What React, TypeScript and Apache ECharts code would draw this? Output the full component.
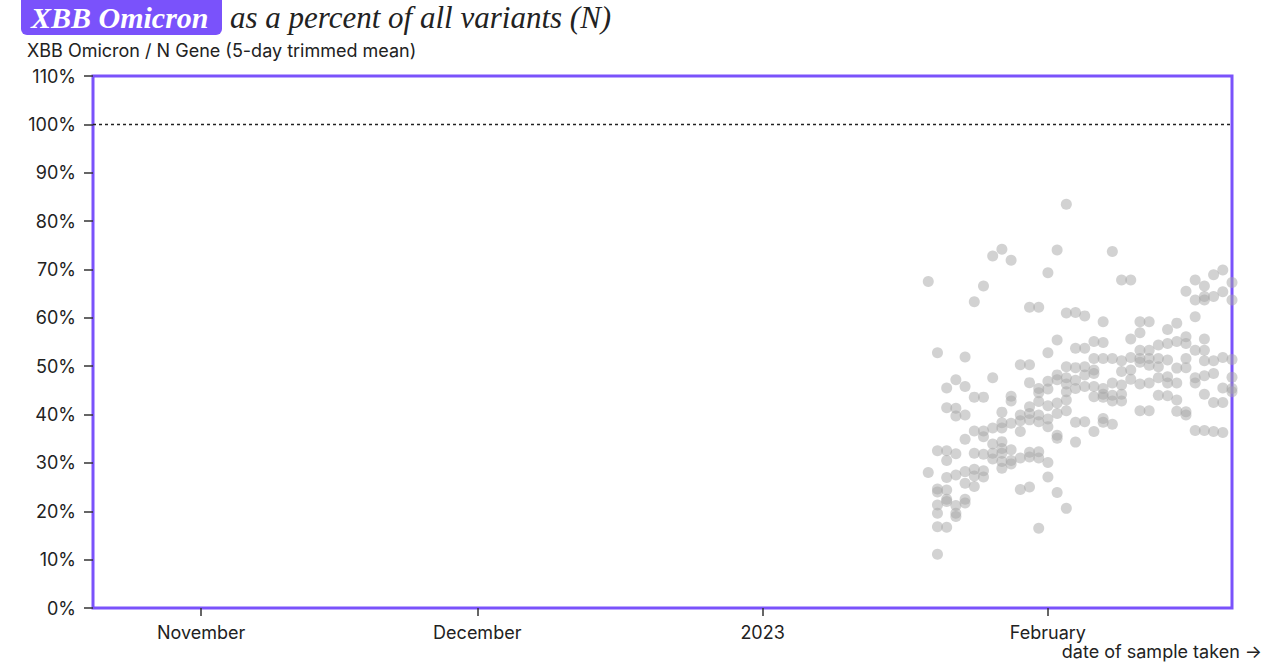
import React, { useEffect, useRef } from "react";
import * as echarts from "echarts";

const DAY = 86400000;
const START = Date.UTC(2023, 0, 19);

// XBB share (%) per sample day, Jan 19 .. Feb 21 (one list per day)
const dayValues: number[][] = [
  [67.5, 28],
  [52.8, 32.5, 24.6, 24.0, 21.3, 19.6, 16.8, 11.1],
  [45.5, 41.4, 32.5, 30.5, 27, 24.4, 22.5, 22, 16.7],
  [47.2, 41.3, 39.7, 31.9, 27.5, 21.2, 19.6, 18.9],
  [51.9, 45.8, 39.9, 34.9, 28.2, 25.8, 22.5, 21.7],
  [63.3, 43.6, 36.6, 32, 28.7, 27.3, 25.1],
  [66.6, 43.6, 36.6, 35.4, 31.8, 28.4, 27.1],
  [72.8, 47.6, 37.2, 33.9, 32, 30.8],
  [74.2, 40.5, 38.3, 37.2, 34.4, 33, 32, 30.3, 28.9],
  [71.9, 43.8, 42.8, 38.2, 32.7, 30.5, 29.8],
  [50.3, 39.9, 38.7, 36.5, 31, 24.5],
  [62.2, 50.3, 46.6, 41.6, 40.2, 38.9, 32.2, 31.2, 25],
  [62.2, 45.4, 44.5, 42.7, 39.9, 38.5, 32.3, 31, 16.5],
  [69.3, 52.8, 46.9, 45.3, 41.8, 39.1, 37.5, 30.1, 27.1],
  [74, 55.4, 48.2, 47.2, 42.4, 40.2, 35.7, 35.1, 23.9],
  [83.5, 61, 49.9, 47.6, 46.3, 44.7, 43, 40.8, 20.6],
  [61.1, 53.7, 49.7, 47.1, 45.4, 38.4, 34.3],
  [60.4, 53.7, 49.9, 48.2, 45.8, 38.5],
  [55.1, 51.6, 49.2, 48.5, 45.8, 43.7, 36.5],
  [59.2, 54.9, 51.6, 45.4, 44.2, 43.6, 39.2, 38.4],
  [73.7, 51.6, 46.5, 44, 42.8, 38],
  [67.8, 51.1, 48.9, 46.1, 44.2, 42.8],
  [67.8, 55.6, 51.8, 49.2, 47.3],
  [59.2, 56.9, 53.3, 51.6, 50.8, 46.3, 40.8],
  [59.2, 53.3, 51.6, 50.2, 46.5, 40.8],
  [54.4, 51.6, 49.9, 47.6, 44],
  [57.6, 54.7, 51.3, 47.8, 46.5, 43.9],
  [58.9, 55.1, 49.6, 46.5, 43, 40.7],
  [65.5, 56.1, 54.7, 51.6, 49.7, 40.6, 39.9],
  [67.8, 63.7, 60.2, 53.3, 47.6, 46.5, 36.7],
  [66.6, 64.4, 63.7, 55.6, 53.3, 51.1, 48, 44.2, 36.7],
  [68.9, 64.4, 51.1, 48.5, 42.5, 36.5],
  [69.9, 65.4, 51.8, 45.5, 42.5, 36.3],
  [67.3, 63.7, 51.4, 47.7, 45.4, 44.7],
];

const monthTicks = [
  Date.UTC(2022, 10, 1),
  Date.UTC(2022, 11, 1),
  Date.UTC(2023, 0, 1),
  Date.UTC(2023, 1, 1),
];
const monthLabels = ["November", "December", "2023", "February"];

const X_MIN = Date.UTC(2022, 9, 20, 6);
const X_MAX = Date.UTC(2023, 1, 21);

const PURPLE = "#7a52fb";
const SANS = "Inter, 'Noto Sans', sans-serif";
const SERIF = "'Liberation Serif', 'DejaVu Serif', serif";

export default function App() {
  const ref = useRef<HTMLDivElement>(null);
  useEffect(() => {
    if (!ref.current) return;
    const chart = echarts.init(ref.current, null, { renderer: "svg" });
    const points: number[][] = [];
    dayValues.forEach((vals, k) => {
      vals.forEach((v) => points.push([START + k * DAY, v]));
    });
    chart.setOption({
      animation: false,
      grid: {
        left: 93,
        right: 34,
        top: 76,
        bottom: 62,
        show: true,
        borderColor: PURPLE,
        borderWidth: 3,
        backgroundColor: "transparent",
      },
      xAxis: {
        type: "value",
        min: X_MIN,
        max: X_MAX,
        splitLine: { show: false },
        axisLine: { show: false },
        axisTick: {
          show: true,
          customValues: monthTicks,
          length: 8,
          lineStyle: { color: "#333", width: 1.5 },
        },
        axisLabel: {
          customValues: monthTicks,
          margin: 15,
          fontSize: 18,
          fontFamily: SANS,
          color: "#222",
          formatter: (v: number) => {
            const i = monthTicks.indexOf(v);
            return i >= 0 ? monthLabels[i] : "";
          },
        },
      },
      yAxis: {
        type: "value",
        min: 0,
        max: 110,
        interval: 10,
        splitLine: { show: false },
        axisLine: { show: false },
        axisTick: {
          show: true,
          length: 9,
          lineStyle: { color: "#333", width: 1.5 },
        },
        axisLabel: {
          margin: 17,
          fontSize: 18,
          fontFamily: SANS,
          color: "#222",
          formatter: "{value}%",
        },
      },
      graphic: [
        {
          type: "rect",
          left: 21,
          top: -8,
          shape: { width: 201, height: 43, r: 6 },
          style: { fill: PURPLE },
        },
        {
          type: "text",
          left: 31,
          top: 2,
          style: {
            text: "XBB Omicron",
            font: `italic bold 30px ${SERIF}`,
            fill: "#fff",
          },
        },
        {
          type: "text",
          left: 230,
          top: 2,
          style: {
            text: "as a percent of all variants (N)",
            font: `italic 31px ${SERIF}`,
            fill: "#222",
          },
        },
        {
          type: "text",
          left: 27,
          top: 41,
          style: {
            text: "XBB Omicron / N Gene (5-day trimmed mean)",
            font: `18px ${SANS}`,
            fill: "#222",
          },
        },
        {
          type: "text",
          right: 4,
          top: 642,
          style: {
            text: "date of sample taken →",
            font: `18px ${SANS}`,
            fill: "#222",
          },
        },
      ],
      series: [
        {
          type: "scatter",
          data: points,
          symbolSize: 11,
          clip: false,
          itemStyle: { color: "#a6a6a6", opacity: 0.5 },
          markLine: {
            silent: true,
            symbol: "none",
            label: { show: false },
            lineStyle: { color: "#222", type: [3, 3], width: 1.3 },
            data: [{ yAxis: 100 }],
          },
        },
      ],
    });
    return () => chart.dispose();
  }, []);
  return (
    <div
      ref={ref}
      style={{ position: "absolute", left: 0, top: 0, width: 1266, height: 670 }}
    />
  );
}
